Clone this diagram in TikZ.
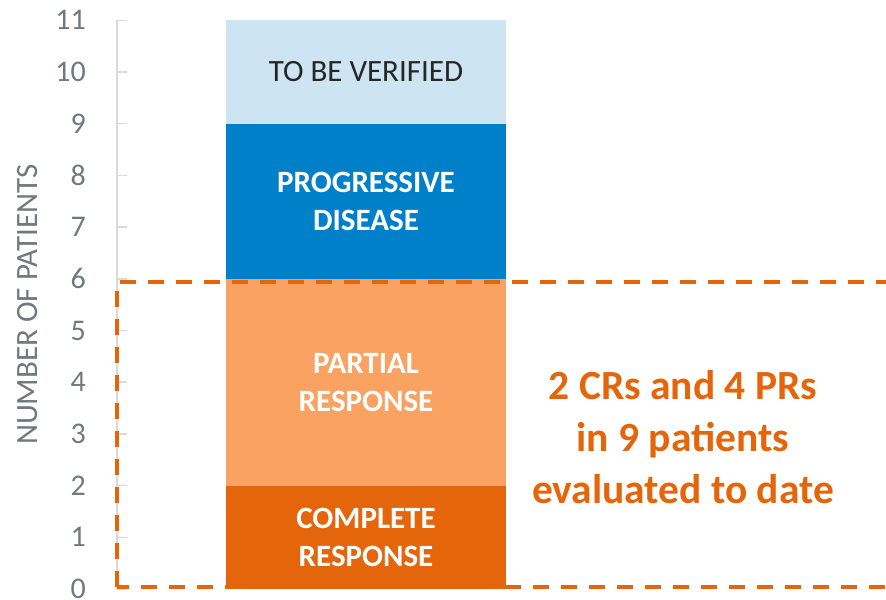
\documentclass[tikz,border=0pt]{standalone}
\usepackage{fontspec}
\setmainfont{Carlito}
\usepackage{tikz}
\usetikzlibrary{positioning}
\definecolor{lightblue}{RGB}{205,228,243}
\definecolor{midblue}{RGB}{0,128,200}
\definecolor{lightorange}{RGB}{249,162,97}
\definecolor{darkorange}{RGB}{229,101,10}
\definecolor{axisgrey}{RGB}{217,217,217}
\definecolor{labelgrey}{RGB}{115,120,125}
\definecolor{textdark}{RGB}{38,38,38}

\begin{document}
\begin{tikzpicture}[x=1pt,y=51.7pt]
\tikzstyle{seg}=[rectangle, minimum width=280pt, inner sep=0pt, outer sep=0pt, align=center, text=white, font=\bfseries\fontsize{31}{38}\selectfont]
\tikzstyle{ticklabel}=[anchor=east, inner sep=0pt, text=labelgrey, font=\fontsize{30}{36}\selectfont]
\tikzstyle{axis}=[draw=axisgrey, line width=1.5pt]
\tikzstyle{box}=[draw=darkorange, line width=3.5pt, dash pattern=on 16pt off 12pt]
\useasboundingbox (0,-0.1934) rectangle (886,11.393);
\clip (0,-0.1934) rectangle (886,11.393);

% axis with ticks
\coordinate (o) at (117,0);
\coordinate (top) at (117,11);
\draw[axis] (o) -- (top);
\foreach \k in {0,...,11}{
  \coordinate (t\k) at (117,\k);
  \draw[axis] (t\k) -- ++(10,0);
  \node[ticklabel] (l\k) at (86,\k) {\k};
}
\node[rotate=90, text=labelgrey, font=\fontsize{31}{36}\selectfont] (ytitle) at (28,5.5) {NUMBER OF PATIENTS};

% stacked bar
\node[seg, fill=darkorange, minimum height=103.4pt] (cr) at (366,1) {COMPLETE\\RESPONSE};
\node[seg, fill=lightorange, minimum height=206.8pt] (pr) at (366,4) {PARTIAL\\RESPONSE};
\node[seg, fill=midblue, minimum height=155.1pt] (pd) at (366,7.5) {PROGRESSIVE\\DISEASE};
\node[seg, fill=lightblue, minimum height=103.4pt, text=textdark, font=\fontsize{31}{38}\selectfont] (tbv) at (366,10) {TO BE VERIFIED};

% highlight
\coordinate (bl) at (117,0.04);
\coordinate (tr) at (910,5.94);
\draw[box] (bl) rectangle (tr);
\node[align=center, text=darkorange, font=\bfseries\fontsize{41.5}{52}\selectfont] (summary) at (683,2.94) {2 CRs and 4 PRs\\in 9 patients\\evaluated to date};
\end{tikzpicture}
\end{document}
